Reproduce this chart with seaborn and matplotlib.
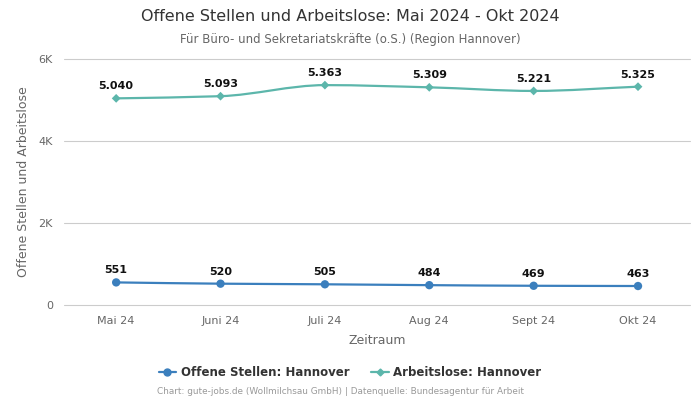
import numpy as np
import pandas as pd
import matplotlib
matplotlib.use("Agg")
import matplotlib.pyplot as plt
from matplotlib.path import Path
from matplotlib.patches import PathPatch
from matplotlib.lines import Line2D
import seaborn as sns

# Daten
monate = ["Mai 24", "Juni 24", "Juli 24", "Aug 24", "Sept 24", "Okt 24"]
offene_stellen = [551, 520, 505, 484, 469, 463]
arbeitslose = [5040, 5093, 5363, 5309, 5221, 5325]

blau = "#3b7fbd"
tuerkis = "#5cb6ab"

sns.set_theme(style="white")
plt.rcParams["font.family"] = ["DejaVu Sans"]

df = pd.DataFrame({
    "Zeitraum": list(range(len(monate))) * 2,
    "Wert": offene_stellen + arbeitslose,
    "Reihe": ["Offene Stellen: Hannover"] * len(monate) + ["Arbeitslose: Hannover"] * len(monate),
})

fig = plt.figure(figsize=(7, 4), dpi=100)
ax = fig.add_axes([0.0914, 0.2375, 0.8946, 0.615])


def glatte_linie(ax, xs, ys, farbe, lw=1.6):
    # monotone kubische Bezier-Kurve durch die Datenpunkte (nur Darstellung)
    xs = np.asarray(xs, float)
    ys = np.asarray(ys, float)
    n = len(xs)
    d = np.diff(ys) / np.diff(xs)
    m = np.zeros(n)
    m[0], m[-1] = d[0], d[-1]
    for i in range(1, n - 1):
        m[i] = 0 if d[i - 1] * d[i] <= 0 else 2 / (1 / d[i - 1] + 1 / d[i])
    verts = [(xs[0], ys[0])]
    codes = [Path.MOVETO]
    for i in range(n - 1):
        h = xs[i + 1] - xs[i]
        verts += [(xs[i] + h / 3, ys[i] + m[i] * h / 3),
                  (xs[i + 1] - h / 3, ys[i + 1] - m[i + 1] * h / 3),
                  (xs[i + 1], ys[i + 1])]
        codes += [Path.CURVE4] * 3
    ax.add_patch(PathPatch(Path(verts, codes), fill=False, edgecolor=farbe, lw=lw, zorder=2))


x = np.arange(len(monate))
glatte_linie(ax, x, offene_stellen, blau)
glatte_linie(ax, x, arbeitslose, tuerkis)

sns.scatterplot(data=df, x="Zeitraum", y="Wert", hue="Reihe", style="Reihe",
                markers={"Offene Stellen: Hannover": "o", "Arbeitslose: Hannover": "D"},
                palette={"Offene Stellen: Hannover": blau, "Arbeitslose: Hannover": tuerkis},
                size="Reihe", sizes={"Offene Stellen: Hannover": 36, "Arbeitslose: Hannover": 20},
                edgecolor="none", legend=False, ax=ax, zorder=3)

def fmt(v):
    return f"{v:,}".replace(",", ".")

for xi, v in zip(x, offene_stellen):
    ax.annotate(fmt(v), (xi, v), xytext=(0, 5), textcoords="offset points",
                ha="center", va="bottom", fontsize=8, fontweight="bold", color="#111111")
for xi, v in zip(x, arbeitslose):
    ax.annotate(fmt(v), (xi, v), xytext=(0, 5), textcoords="offset points",
                ha="center", va="bottom", fontsize=8, fontweight="bold", color="#111111")

ax.set_xlim(-0.5, len(monate) - 0.5)
ax.set_ylim(0, 6000)
ax.set_yticks([0, 2000, 4000, 6000])
ax.set_yticklabels(["0", "2K", "4K", "6K"])
ax.set_xticks(x)
ax.set_xticklabels(monate)
ax.tick_params(axis="both", length=0, labelsize=8, colors="#666666", pad=8)
ax.grid(False)
for yv in [0, 2000, 4000, 6000]:
    ax.axhline(yv, color="#cccccc", lw=0.8, zorder=0, clip_on=False)
for s in ax.spines.values():
    s.set_visible(False)

ax.set_xlabel("Zeitraum", fontsize=9, color="#666666", labelpad=6)
ax.set_ylabel("Offene Stellen und Arbeitslose", fontsize=9, color="#666666", labelpad=6)

fig.text(0.5, 0.958, "Offene Stellen und Arbeitslose: Mai 2024 - Okt 2024",
         ha="center", va="center", fontsize=11.5, color="#333333")
fig.text(0.5, 0.902, "Für Büro- und Sekretariatskräfte (o.S.) (Region Hannover)",
         ha="center", va="center", fontsize=8.5, color="#666666")

handles = [
    Line2D([0], [0], color=blau, marker="o", markersize=5, lw=1.6),
    Line2D([0], [0], color=tuerkis, marker="D", markersize=3.5, lw=1.6),
]
leg = fig.legend(handles, ["Offene Stellen: Hannover", "Arbeitslose: Hannover"],
                 loc="center", bbox_to_anchor=(0.5, 0.068), ncol=2, frameon=False,
                 handlelength=1.5, handletextpad=0.4, columnspacing=1.8,
                 prop={"size": 8.5, "weight": "bold"})
for t in leg.get_texts():
    t.set_color("#333333")

fig.text(0.486, 0.02, "Chart: gute-jobs.de (Wollmilchsau GmbH) | Datenquelle: Bundesagentur für Arbeit",
         ha="center", va="center", fontsize=6.4, color="#999999")

fig.savefig("out.png", dpi=100)
